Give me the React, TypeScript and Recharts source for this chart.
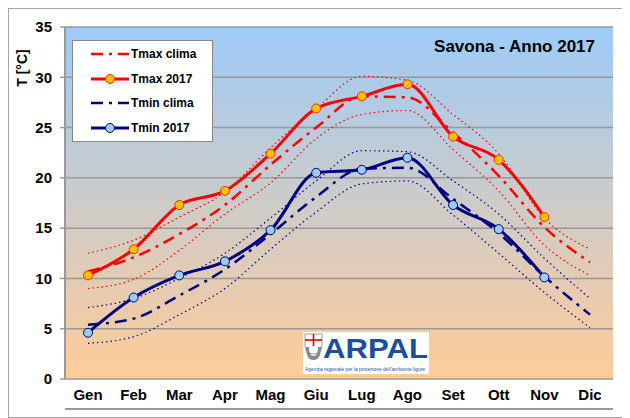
import React from "react";
import {
  LineChart,
  Line,
  XAxis,
  YAxis,
  CartesianGrid,
  Legend,
} from "recharts";

const MONTHS = ["Gen", "Feb", "Mar", "Apr", "Mag", "Giu", "Lug", "Ago", "Set", "Ott", "Nov", "Dic"];

// clima Tmax con fascia (limite sup / inf)
const TMAX_CLIMA = [10.7, 12.1, 14.4, 17.3, 21.3, 25.0, 28.1, 28.0, 24.5, 20.2, 15.1, 11.6];
const TMAX_CLIMA_UP = [12.5, 13.8, 16.1, 18.6, 23.0, 26.9, 30.1, 29.7, 26.3, 22.4, 16.0, 12.9];
const TMAX_CLIMA_LOW = [9.0, 9.9, 12.8, 16.4, 19.5, 23.9, 26.3, 26.7, 22.8, 18.7, 13.3, 10.3];
const TMAX_2017 = [10.3, 12.9, 17.3, 18.7, 22.4, 26.9, 28.1, 29.3, 24.1, 21.8, 16.1, null];

const TMIN_CLIMA = [5.4, 6.0, 8.3, 10.9, 14.4, 18.1, 20.9, 21.0, 17.9, 14.5, 10.2, 6.4];
const TMIN_CLIMA_UP = [7.1, 8.0, 10.0, 12.5, 16.0, 19.7, 22.7, 22.6, 19.7, 16.4, 12.0, 8.0];
const TMIN_CLIMA_LOW = [3.55, 4.2, 6.4, 9.0, 12.9, 16.6, 19.4, 19.7, 16.3, 12.5, 8.6, 5.1];
const TMIN_2017 = [4.6, 8.1, 10.3, 11.7, 14.8, 20.5, 20.8, 22.0, 17.3, 14.9, 10.1, null];

const Y_TICKS = [0, 5, 10, 15, 20, 25, 30, 35];
const FRAME_TICKS = [0, 1, 2, 3, 4, 5, 6, 7, 8, 9, 10, 11, 12];

const RED = "#FF0000";
const NAVY = "#000080";
const GRID = "#999999";
const DASH_DOT = "12 6 3 6";
const DOTTED = "1.5 3";
const FONT = "'Liberation Sans', Arial, sans-serif";

const data = MONTHS.map((m, i) => ({
  month: m,
  tmaxClima: TMAX_CLIMA[i],
  tmaxUp: TMAX_CLIMA_UP[i],
  tmaxLow: TMAX_CLIMA_LOW[i],
  tmax2017: TMAX_2017[i],
  tminClima: TMIN_CLIMA[i],
  tminUp: TMIN_CLIMA_UP[i],
  tminLow: TMIN_CLIMA_LOW[i],
  tmin2017: TMIN_2017[i],
}));

const legendItems = [
  { label: "Tmax clima", color: RED, dash: DASH_DOT, dotFill: null },
  { label: "Tmax 2017", color: RED, dash: undefined, dotFill: "#FFC000" },
  { label: "Tmin clima", color: NAVY, dash: DASH_DOT, dotFill: null },
  { label: "Tmin 2017", color: NAVY, dash: undefined, dotFill: "#99CCFF" },
];

function LegendBox() {
  return (
    <div
      style={{
        width: 141,
        height: 102,
        background: "#fff",
        border: "1px solid #888",
        boxSizing: "border-box",
        position: "relative",
        fontFamily: FONT,
      }}
    >
      {legendItems.map((it, i) => (
        <div
          key={it.label}
          style={{ position: "absolute", left: 0, top: 13 + i * 24.7 - 9, height: 18, width: 141 }}
        >
          <svg width={60} height={18} style={{ position: "absolute", left: 0, top: 0 }}>
            <line
              x1={18}
              x2={56}
              y1={9}
              y2={9}
              stroke={it.color}
              strokeWidth={it.dotFill ? 3 : 2.5}
              strokeDasharray={it.dash}
            />
            {it.dotFill && <circle cx={37} cy={9} r={4.5} fill={it.dotFill} stroke={it.dotFill === "#FFC000" ? "#FF3300" : NAVY} strokeWidth={1} />}
          </svg>
          <span
            style={{
              position: "absolute",
              left: 58,
              top: 0,
              lineHeight: "18px",
              fontSize: 12,
              fontWeight: "bold",
              color: "#000",
              whiteSpace: "nowrap",
            }}
          >
            {it.label}
          </span>
        </div>
      ))}
    </div>
  );
}

function ArpalLogo() {
  return (
    <div
      style={{
        position: "absolute",
        left: 294,
        top: 323,
        width: 126,
        height: 42,
        background: "#fff",
      }}
    >
      <svg width={126} height={42}>
        <path d="M2 2 H19 V13 Q19 22 10.5 22 Q2 22 2 13 Z" fill="#fff" stroke="#999" strokeWidth={1} />
        <line x1={10.5} y1={2} x2={10.5} y2={14} stroke="#e00000" strokeWidth={1.6} />
        <line x1={2} y1={8} x2={19} y2={8} stroke="#e00000" strokeWidth={1.6} />
        <path d="M3 15 Q3 28 10.5 28 Q18 28 18 15 L15 15 Q15 24 10.5 24 Q6 24 6 15 Z" fill="#888" />
        <text x={20} y={26} fontFamily={FONT} fontWeight="bold" fontSize={28} fill="#1b4f9c" textLength={105} lengthAdjust="spacingAndGlyphs">
          ARPAL
        </text>
        <text x={2} y={38.5} fontFamily={FONT} fontSize={5} fill="#1b4f9c" textLength={120} lengthAdjust="spacingAndGlyphs">
          Agenzia regionale per la protezione dell'ambiente ligure
        </text>
      </svg>
    </div>
  );
}

export default function App() {
  return (
    <div
      style={{
        position: "relative",
        width: 622,
        height: 410,
        border: "1px solid #a8a8a8",
        boxSizing: "border-box",
        background: "#fff",
        fontFamily: FONT,
      }}
    >
      <style>{"body{overflow:hidden}"}</style>
      <LineChart width={620} height={408} data={data} margin={{ top: 18, right: 16, left: 0, bottom: 2 }}>
        <defs>
          <linearGradient id="plotBg" x1="0" y1="0" x2="0" y2="1">
            <stop offset="0" stopColor="#9DCBF8" />
            <stop offset="1" stopColor="#FFCC99" />
          </linearGradient>
        </defs>
        <CartesianGrid vertical={false} fill="url(#plotBg)" fillOpacity={1} stroke={GRID} strokeWidth={1.5} />
        <XAxis
          xAxisId="frame"
          type="number"
          domain={[0, 12]}
          ticks={FRAME_TICKS}
          tick={false}
          tickSize={5}
          height={6}
          axisLine={{ stroke: GRID, strokeWidth: 2 }}
          tickLine={{ stroke: GRID, strokeWidth: 1.5 }}
        />
        <XAxis
          dataKey="month"
          interval={0}
          padding={{ left: 23, right: 23 }}
          axisLine={false}
          tickLine={false}
          tickSize={0}
          tickMargin={10}
          height={30}
          tick={{ fill: "#000", fontSize: 15, fontWeight: "bold", fontFamily: FONT }}
        />
        <YAxis
          domain={[0, 35]}
          ticks={Y_TICKS}
          interval={0}
          width={56}
          tickSize={5}
          tickMargin={8}
          axisLine={{ stroke: GRID, strokeWidth: 2 }}
          tickLine={{ stroke: GRID, strokeWidth: 1.5 }}
          tick={{ fill: "#000", fontSize: 15, fontWeight: "bold", fontFamily: FONT }}
        />
        <YAxis
          yAxisId="right"
          orientation="right"
          width={0}
          tick={false}
          tickLine={false}
          axisLine={{ stroke: GRID, strokeWidth: 1.5 }}
        />
        <Legend
          verticalAlign="middle"
          align="center"
          layout="horizontal"
          wrapperStyle={{ left: 63, top: 31, width: 141, height: 102 }}
          content={() => <LegendBox />}
        />

        <Line type="monotone" dataKey="tminUp" stroke={NAVY} strokeWidth={1.2} strokeDasharray={DOTTED} dot={false} isAnimationActive={false} />
        <Line type="monotone" dataKey="tminLow" stroke={NAVY} strokeWidth={1.2} strokeDasharray={DOTTED} dot={false} isAnimationActive={false} />
        <Line type="monotone" dataKey="tmaxUp" stroke={RED} strokeWidth={1.2} strokeDasharray={DOTTED} dot={false} isAnimationActive={false} />
        <Line type="monotone" dataKey="tmaxLow" stroke={RED} strokeWidth={1.2} strokeDasharray={DOTTED} dot={false} isAnimationActive={false} />
        <Line type="monotone" dataKey="tminClima" stroke={NAVY} strokeWidth={2.5} strokeDasharray={DASH_DOT} dot={false} isAnimationActive={false} />
        <Line type="monotone" dataKey="tmaxClima" stroke={RED} strokeWidth={2.5} strokeDasharray={DASH_DOT} dot={false} isAnimationActive={false} />
        <Line
          type="monotone"
          dataKey="tmin2017"
          stroke={NAVY}
          strokeWidth={3}
          dot={{ r: 4.5, fill: "#99CCFF", stroke: NAVY, strokeWidth: 1 }}
          isAnimationActive={false}
        />
        <Line
          type="monotone"
          dataKey="tmax2017"
          stroke={RED}
          strokeWidth={3}
          dot={{ r: 4.5, fill: "#FFC000", stroke: "#FF3300", strokeWidth: 1 }}
          isAnimationActive={false}
        />
      </LineChart>

      <div
        style={{
          position: "absolute",
          right: 34,
          top: 28,
          lineHeight: "20px",
          fontSize: 17,
          fontWeight: "bold",
          color: "#000",
          whiteSpace: "nowrap",
        }}
      >
        Savona - Anno 2017
      </div>
      <div
        style={{
          position: "absolute",
          left: 13,
          top: 59,
          transform: "translate(-50%, -50%) rotate(-90deg)",
          fontSize: 14,
          fontWeight: "bold",
          lineHeight: "16px",
          whiteSpace: "nowrap",
          color: "#000",
        }}
      >
        T [°C]
      </div>
      <ArpalLogo />
    </div>
  );
}
